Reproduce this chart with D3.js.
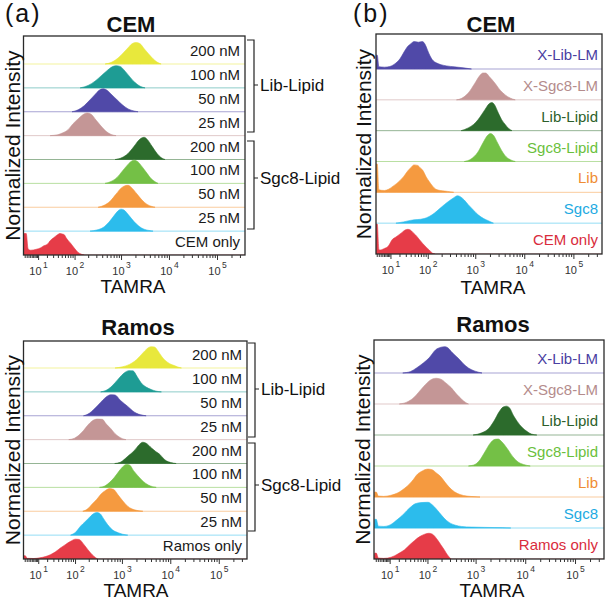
<!DOCTYPE html>
<html><head><meta charset="utf-8">
<script src="https://cdn.jsdelivr.net/npm/d3@7"></script>
<style>
body{margin:0;background:#fff;}
svg{display:block;font-family:"Liberation Sans",Arial,sans-serif;}
</style>
</head><body>
<svg id="c" width="606" height="600"></svg>
<script>
// ---------------- DATA (TAMRA intensity, normalized count) ----------------
const majorTicks = [10, 100, 1000, 10000, 100000];
const tickExp = ["1", "2", "3", "4", "5"];
const minorMult = [2, 3, 4, 5, 6, 7, 8, 9];
const minorDecades = [1, 10, 100, 1000, 10000, 100000];

const leftLabelsCEM = ["200 nM","100 nM","50 nM","25 nM","200 nM","100 nM","50 nM","25 nM","CEM only"];
const leftLabelsRamos = ["200 nM","100 nM","50 nM","25 nM","200 nM","100 nM","50 nM","25 nM","Ramos only"];
const rightLabelsCEM = ["X-Lib-LM","X-Sgc8-LM","Lib-Lipid","Sgc8-Lipid","Lib","Sgc8","CEM only"];
const rightLabelsRamos = ["X-Lib-LM","X-Sgc8-LM","Lib-Lipid","Sgc8-Lipid","Lib","Sgc8","Ramos only"];
const bracketLabels = ["Lib-Lipid", "Sgc8-Lipid"];

// (a) CEM
const cemA_lib200 = [[450,0],[630,0.08],[845,0.25],[1130,0.5],[1370,0.68],[1660,0.85],[2010,0.9],[2440,0.85],[2950,0.65],[3580,0.45],[4550,0.22],[5500,0.08],[6700,0]];
const cemA_lib100 = [[130,0],[194,0.1],[274,0.28],[369,0.5],[494,0.72],[631,0.88],[767,0.93],[931,0.9],[1185,0.7],[1508,0.45],[1917,0.22],[2439,0.07],[3100,0]];
const cemA_lib50 = [[85,0],[117,0.08],[159,0.25],[214,0.5],[274,0.72],[336,0.9],[408,0.96],[494,0.9],[631,0.7],[805,0.5],[1025,0.3],[1369,0.12],[1827,0.03],[2215,0]];
const cemA_lib25 = [[24,0],[39,0.04],[52,0.12],[69,0.25],[90,0.5],[117,0.7],[151,0.88],[184,0.95],[225,0.9],[288,0.65],[369,0.4],[471,0.18],[601,0.05],[767,0]];
const cemA_sgc200 = [[731,0],[1025,0.08],[1369,0.25],[1827,0.55],[2325,0.82],[2954,0.93],[3413,0.85],[4340,0.55],[5519,0.25],[6682,0.08],[8100,0]];
const cemA_sgc100 = [[449,0],[601,0.08],[805,0.25],[1025,0.5],[1305,0.75],[1582,0.92],[1827,0.97],[2215,0.9],[2684,0.7],[3413,0.42],[4135,0.2],[5013,0.07],[5786,0]];
const cemA_sgc50 = [[320,0],[428,0.08],[573,0.25],[767,0.55],[977,0.8],[1185,0.9],[1369,0.92],[1659,0.8],[2111,0.55],[2684,0.3],[3413,0.12],[4340,0.03],[5013,0]];
const cemA_sgc25 = [[214,0],[302,0.05],[408,0.15],[546,0.38],[697,0.65],[844,0.85],[977,0.92],[1130,0.88],[1437,0.65],[1827,0.4],[2325,0.2],[2955,0.08],[3942,0.02],[4553,0]];
const cemA_only = [[0,0],[0.5,0.9],[1.5,0.9],[2.5,0.25],[4,0.2],[8,0.24],[12,0.3],[15,0.38],[20,0.45],[24,0.6],[30,0.72],[38,0.85],[44,0.9],[50,0.88],[56,0.85],[62,0.72],[70,0.6],[80,0.48],[95,0.3],[115,0.12],[140,0.03],[160,0]];

// (b) CEM
const cemB_xLib = [[0,0],[0.3,0.45],[1,0.45],[1.8,0.07],[5,0.06],[9,0.08],[13,0.15],[20,0.33],[26,0.55],[32,0.72],[40,0.83],[47,0.89],[60,0.87],[74,0.89],[85,0.8],[96,0.62],[110,0.42],[123,0.3],[150,0.2],[189,0.14],[250,0.1],[360,0.07],[550,0.04],[815,0]];
const cemB_xSgc = [[400,0],[500,0.04],[700,0.22],[960,0.54],[1200,0.78],[1400,0.87],[1600,0.87],[1900,0.75],[2470,0.54],[3200,0.3],[4000,0.16],[5000,0.06],[6400,0]];
const cemB_libLipid = [[500,0],[700,0.09],[900,0.2],[1120,0.36],[1540,0.68],[1900,0.88],[2150,0.91],[2400,0.85],[2900,0.57],[3400,0.35],[4000,0.2],[4700,0.07],[5500,0]];
const cemB_sgcLipid = [[580,0],[800,0.08],[1100,0.3],[1400,0.6],[1750,0.85],[2000,0.91],[2300,0.85],[2800,0.6],[3400,0.35],[4200,0.15],[5200,0.05],[6400,0]];
const cemB_lib = [[0,0],[0.3,0.92],[1,0.92],[1.8,0.08],[5,0.06],[8,0.1],[12,0.2],[16,0.29],[25,0.5],[33,0.7],[39,0.8],[47,0.89],[58,0.87],[65,0.8],[74,0.73],[90,0.5],[105,0.35],[125,0.2],[147,0.1],[200,0.05],[260,0.03],[350,0]];
const cemB_sgc = [[15,0],[25,0.04],[38,0.09],[81,0.15],[135,0.32],[180,0.48],[222,0.6],[280,0.72],[340,0.81],[420,0.89],[480,0.86],[580,0.75],[700,0.6],[900,0.42],[1120,0.27],[1450,0.15],[1800,0.08],[2300,0]];
const cemB_only = [[0,0],[0.3,0.97],[1,0.97],[1.8,0.15],[2.4,0.13],[5,0.18],[7.5,0.24],[11.5,0.48],[15,0.55],[18.4,0.62],[23,0.7],[28,0.78],[33,0.8],[38,0.78],[44,0.7],[51,0.62],[62,0.48],[74,0.35],[90,0.22],[105,0.13],[123,0.03],[140,0]];

// (a) Ramos
const ramA_lib200 = [[700,0],[1000,0.05],[1400,0.15],[1780,0.28],[2200,0.45],[2650,0.63],[3200,0.8],[3900,0.89],[4600,0.88],[5500,0.7],[6400,0.5],[7400,0.35],[9500,0.18],[11900,0.1],[14000,0.04],[16600,0]];
const ramA_lib100 = [[350,0],[450,0.06],[573,0.2],[700,0.38],[855,0.58],[1100,0.8],[1370,0.89],[1660,0.88],[2000,0.65],[2440,0.38],[3100,0.2],[3940,0.1],[5000,0.03],[6400,0]];
const ramA_lib50 = [[150,0],[200,0.1],[245,0.25],[310,0.45],[390,0.66],[480,0.82],[573,0.88],[700,0.87],[900,0.65],[1100,0.5],[1290,0.39],[1600,0.22],[1917,0.11],[2400,0.04],[3100,0]];
const ramA_lib25 = [[70,0],[95,0.06],[118,0.18],[150,0.38],[185,0.6],[230,0.78],[300,0.86],[380,0.85],[460,0.65],[573,0.46],[700,0.25],[860,0.11],[1000,0.04],[1185,0]];
const ramA_sgc200 = [[690,0],[900,0.05],[1290,0.3],[1780,0.55],[2200,0.78],[2650,0.89],[3100,0.85],[4000,0.65],[4900,0.5],[5960,0.38],[7000,0.22],[8100,0.11],[10000,0.04],[12900,0]];
const ramA_sgc100 = [[330,0],[430,0.06],[540,0.21],[680,0.42],[815,0.63],[1000,0.85],[1200,0.96],[1400,0.94],[1700,0.7],[2080,0.49],[2700,0.25],[3440,0.1],[4200,0.03],[5000,0]];
const ramA_sgc50 = [[145,0],[185,0.1],[228,0.29],[290,0.5],[352,0.71],[450,0.88],[540,0.95],[650,0.92],[800,0.7],[1020,0.43],[1300,0.2],[1780,0.06],[2200,0.02],[2650,0]];
const ramA_sgc25 = [[77,0],[100,0.12],[130,0.38],[160,0.55],[197,0.72],[240,0.88],[290,0.95],[340,0.9],[400,0.7],[490,0.44],[620,0.22],[815,0.1],[1000,0.04],[1290,0]];
const ramA_only = [[0,0],[0.3,0.14],[1,0.14],[2,0.03],[6,0.02],[11,0.05],[17,0.1],[24,0.18],[33,0.3],[44,0.46],[58,0.6],[77,0.74],[100,0.83],[120,0.82],[154,0.6],[185,0.4],[214,0.25],[250,0.12],[300,0]];

// (b) Ramos
const ramB_xLib = [[25,0],[40,0.05],[55,0.16],[80,0.33],[105,0.48],[147,0.75],[189,0.83],[230,0.85],[260,0.82],[330,0.65],[430,0.48],[550,0.3],[700,0.16],[950,0.06],[1317,0]];
const ramB_xSgc = [[20,0],[32,0.06],[47,0.2],[62,0.38],[81,0.57],[110,0.76],[150,0.83],[189,0.8],[240,0.68],[309,0.53],[400,0.32],[503,0.16],[600,0.06],[700,0]];
const ramB_libLipid = [[870,0],[1300,0.07],[1800,0.21],[2300,0.45],[2900,0.74],[3500,0.9],[4100,0.93],[4700,0.88],[5700,0.62],[6800,0.43],[8500,0.24],[10700,0.11],[13000,0.03],[16700,0]];
const ramB_sgcLipid = [[700,0],[950,0.05],[1200,0.2],[1500,0.45],[1900,0.72],[2400,0.86],[2800,0.87],[3300,0.78],[4300,0.55],[5500,0.3],[7000,0.13],[9000,0.05],[12300,0]];
const ramB_lib = [[0,0],[0.3,0.16],[1,0.16],[2,0.03],[5,0.02],[10,0.05],[20,0.16],[28,0.28],[38,0.43],[47,0.57],[55,0.7],[75,0.84],[100,0.9],[123,0.88],[150,0.78],[189,0.65],[230,0.48],[280,0.32],[360,0.17],[470,0.08],[650,0.03],[950,0.01],[1200,0]];
const ramB_sgc = [[0,0],[0.3,0.28],[1,0.28],[2,0.06],[5,0.05],[10,0.1],[16,0.24],[24,0.4],[32,0.56],[42,0.7],[51,0.78],[70,0.82],[100,0.83],[130,0.72],[175,0.5],[220,0.32],[280,0.18],[380,0.09],[503,0.05],[800,0.03],[1500,0.02],[3400,0.01],[5000,0]];
const ramB_only = [[0,0],[0.3,0.19],[1,0.19],[2,0.03],[5,0.02],[8,0.03],[14,0.1],[20,0.19],[28,0.3],[38,0.46],[50,0.6],[67,0.73],[85,0.8],[105,0.83],[125,0.8],[160,0.62],[190,0.45],[222,0.3],[260,0.13],[309,0]];

// ---------------- STYLE ----------------
const C = {
  yellow:"#e8e83c", teal:"#1e9c94", purple:"#5049a8", rosy:"#c49696",
  dkgreen:"#2c6b2c", ltgreen:"#74c046", orange:"#f59a40", cyan:"#2cbcec", red:"#e63c48"
};
const leftFill = [C.yellow, C.teal, C.purple, C.rosy, C.dkgreen, C.ltgreen, C.orange, C.cyan, C.red];
const rightFill = [C.purple, C.rosy, C.dkgreen, C.ltgreen, C.orange, C.cyan, C.red];
const rightText = ["#4a40a2", "#b48c8c", "#2d5f2b", "#6abf3c", "#ef8c34", "#22aae2", "#d92c3c"];

const svg = d3.select("#c");
let clipId = 0;

function panel(cfg) {
  const g = svg.append("g");
  const x = d3.scaleSymlog().constant(9).domain([0, 373000]).range([cfg.r0, cfg.r1]);
  const n = cfg.data.length;
  const spacing = (cfg.by1 - cfg.ytop) / (n - 1);
  const id = "clip" + (clipId++);
  g.append("clipPath").attr("id", id).append("rect")
    .attr("x", cfg.bx0).attr("y", cfg.by0).attr("width", cfg.bx1 - cfg.bx0).attr("height", cfg.by1 - cfg.by0);
  const plot = g.append("g").attr("clip-path", `url(#${id})`);

  cfg.data.forEach((d, i) => {
    const base = cfg.ytop + i * spacing;
    const y = d3.scaleLinear().domain([0, 1]).range([base, base - spacing]);
    plot.append("line").attr("x1", cfg.bx0).attr("x2", cfg.bx1).attr("y1", base).attr("y2", base)
      .attr("stroke", cfg.fills[i]).attr("stroke-opacity", 0.5).attr("stroke-width", 1);
    const area = d3.area().x(p => x(p[0])).y0(base).y1(p => y(p[1])).curve(d3.curveMonotoneX);
    plot.append("path").datum(d).attr("d", area).attr("fill", cfg.fills[i]).attr("stroke", cfg.fills[i]).attr("stroke-width", 0.6);
    g.append("text").attr("x", cfg.labelRight).attr("y", base + cfg.labelDy)
      .attr("text-anchor", "end").attr("font-size", cfg.labelSize)
      .attr("fill", cfg.textColors ? cfg.textColors[i] : "#1a1a1a").text(cfg.labels[i]);
  });

  // box
  g.append("rect").attr("x", cfg.bx0).attr("y", cfg.by0).attr("width", cfg.bx1 - cfg.bx0).attr("height", cfg.by1 - cfg.by0)
    .attr("fill", "none").attr("stroke", "#2a2a2a").attr("stroke-width", 1.3);

  // ticks
  const minors = [];
  minorDecades.forEach(dv => minorMult.forEach(m => { if (dv * m < 373000) minors.push(dv * m); }));
  minors.push(1);
  g.selectAll(null).data(minors).enter().append("line")
    .attr("x1", v => x(v)).attr("x2", v => x(v)).attr("y1", cfg.by1).attr("y2", cfg.by1 + 3)
    .attr("stroke", "#333").attr("stroke-width", 1);
  g.selectAll(null).data(majorTicks).enter().append("line")
    .attr("x1", v => x(v)).attr("x2", v => x(v)).attr("y1", cfg.by1).attr("y2", cfg.by1 + 5)
    .attr("stroke", "#333").attr("stroke-width", 1);
  majorTicks.forEach((v, i) => {
    const t = g.append("text").attr("x", x(v)).attr("y", cfg.by1 + 20).attr("text-anchor", "middle").attr("fill", "#333");
    t.append("tspan").attr("font-size", 11).text("10");
    t.append("tspan").attr("font-size", 8.5).attr("dy", -7).attr("dx", 1.5).text(tickExp[i]);
  });

  // axis titles
  g.append("text").attr("x", cfg.tamX).attr("y", cfg.tamY).attr("text-anchor", "middle").attr("font-size", 19).attr("fill", "#111").text("TAMRA");
  g.append("text").attr("transform", `translate(${cfg.ylabX},${(cfg.by0 + cfg.by1) / 2}) rotate(-90)`)
    .attr("text-anchor", "middle").attr("font-size", 21).attr("fill", "#111").text("Normalized Intensity");
  g.append("text").attr("x", cfg.tx).attr("y", cfg.ty).attr("text-anchor", "middle").attr("font-size", 22)
    .attr("font-weight", "bold").attr("fill", "#111").text(cfg.title);

  // brackets
  if (cfg.brackets) {
    cfg.brackets.forEach((b, i) => {
      const bx = cfg.brX;
      g.append("path").attr("d", `M${bx - 7},${b[0]}H${bx}V${b[1]}H${bx - 7}M${bx},${b[2]}H${bx + 4}`)
        .attr("fill", "none").attr("stroke", "#222").attr("stroke-width", 1.2);
      g.append("text").attr("x", bx + 6).attr("y", b[2] + 6).attr("font-size", 17).attr("fill", "#111").text(bracketLabels[i]);
    });
  }
}

panel({ bx0:23.5, bx1:245, by0:36, by1:255, r0:23, r1:245, ytop:64,
  data:[cemA_lib200, cemA_lib100, cemA_lib50, cemA_lib25, cemA_sgc200, cemA_sgc100, cemA_sgc50, cemA_sgc25, cemA_only],
  fills:leftFill, labels:leftLabelsCEM, labelRight:240, labelDy:-8, labelSize:15,
  title:"CEM", tx:131, ty:32, tamX:133, tamY:293, ylabX:20,
  brX:254, brackets:[[40,132,85],[141,229,178]] });

panel({ bx0:376, bx1:602, by0:34, by1:254, r0:375, r1:602, ytop:69,
  data:[cemB_xLib, cemB_xSgc, cemB_libLipid, cemB_sgcLipid, cemB_lib, cemB_sgc, cemB_only],
  fills:rightFill, labels:rightLabelsCEM, textColors:rightText, labelRight:598, labelDy:-9, labelSize:15,
  title:"CEM", tx:491, ty:32, tamX:493, tamY:294, ylabX:371 });

panel({ bx0:23.5, bx1:247, by0:341, by1:559, r0:23, r1:247, ytop:368,
  data:[ramA_lib200, ramA_lib100, ramA_lib50, ramA_lib25, ramA_sgc200, ramA_sgc100, ramA_sgc50, ramA_sgc25, ramA_only],
  fills:leftFill, labels:leftLabelsRamos, labelRight:242, labelDy:-8, labelSize:15,
  title:"Ramos", tx:138, ty:335, tamX:136, tamY:597, ylabX:20,
  brX:255, brackets:[[343,437,389],[443,531,485]] });

panel({ bx0:374, bx1:604, by0:340, by1:559, r0:374, r1:604, ytop:373,
  data:[ramB_xLib, ramB_xSgc, ramB_libLipid, ramB_sgcLipid, ramB_lib, ramB_sgc, ramB_only],
  fills:rightFill, labels:rightLabelsRamos, textColors:rightText, labelRight:598, labelDy:-9, labelSize:15,
  title:"Ramos", tx:493, ty:332, tamX:492, tamY:597, ylabX:370 });

svg.append("text").attr("x", 5).attr("y", 22).attr("font-size", 25).attr("letter-spacing", 2).attr("fill", "#111").text("(a)");
svg.append("text").attr("x", 353).attr("y", 22).attr("font-size", 25).attr("letter-spacing", 2).attr("fill", "#111").text("(b)");
</script>
</body></html>
